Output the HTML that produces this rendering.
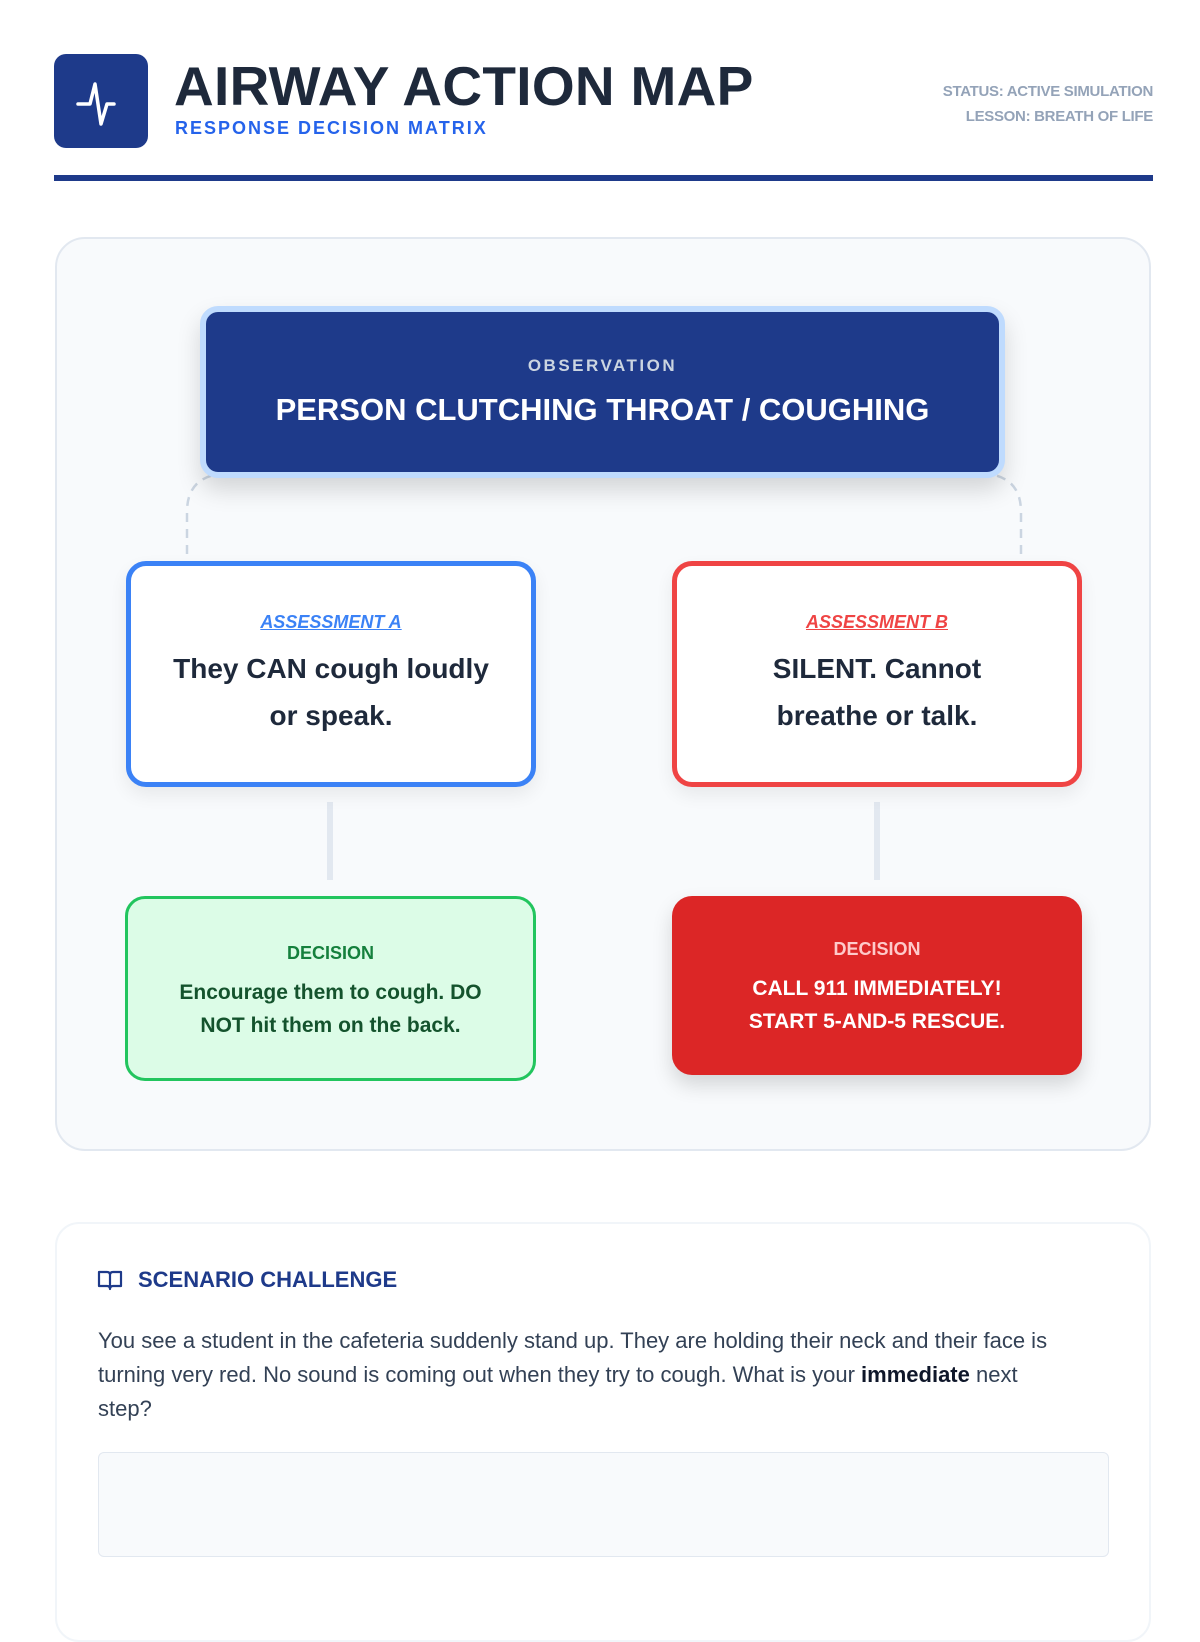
<!DOCTYPE html>
<html><head><meta charset="utf-8"><style>
*{box-sizing:border-box;margin:0;padding:0}
body{width:1200px;height:1600px;background:#fff;font-family:"Liberation Sans",sans-serif;position:relative;overflow:hidden;color:#1e293b}
.a{position:absolute}
.c{text-align:center}
</style></head><body>
<div class="a" style="left:54px;top:54px;width:94px;height:94px;background:#1e3a8a;border-radius:12px">
<svg width="94" height="94" viewBox="0 0 94 94"><polyline points="24,50 36,50 41,30 47,70 53,50 60,50" fill="none" stroke="#fff" stroke-width="3.5" stroke-linejoin="round" stroke-linecap="round"/></svg></div>
<div class="a" style="left:174px;top:54px;font-size:55px;font-weight:900;color:#1e293b;letter-spacing:0.3px;white-space:nowrap">AIRWAY ACTION MAP</div>
<div class="a" style="left:175px;top:118px;font-size:18px;font-weight:bold;color:#2563eb;letter-spacing:2px;white-space:nowrap">RESPONSE DECISION MATRIX</div>
<div class="a" style="right:47px;top:79px;font-size:15px;font-weight:bold;color:#94a3b8;text-align:right;line-height:25px;letter-spacing:-0.3px">STATUS: ACTIVE SIMULATION<br>LESSON: BREATH OF LIFE</div>
<div class="a" style="left:54px;top:175px;width:1099px;height:6px;background:#1e3a8a"></div>

<div class="a" style="left:55px;top:237px;width:1096px;height:914px;background:#f8fafc;border:2px solid #e2e8f0;border-radius:30px"></div>
<svg class="a" style="left:0;top:0" width="1200" height="1200">
<path d="M187 554 V512 Q187 478 220 474" fill="none" stroke="#cbd5e1" stroke-width="2.5" stroke-dasharray="9 7"/>
<path d="M1021 554 V512 Q1021 478 988 474" fill="none" stroke="#cbd5e1" stroke-width="2.5" stroke-dasharray="9 7"/>
<rect x="327" y="802" width="6" height="78" fill="#e2e8f0"/>
<rect x="874" y="802" width="6" height="78" fill="#e2e8f0"/>
</svg>
<div class="a c" style="left:200px;top:306px;width:805px;height:172px;background:#1e3a8a;border:6px solid #bfdbfe;border-radius:18px;box-shadow:0 12px 24px rgba(0,0,0,.15)">
<div style="margin-top:44px;font-size:17px;font-weight:bold;color:#cbd5e1;letter-spacing:2.5px">OBSERVATION</div>
<div style="margin-top:16px;font-size:31px;font-weight:bold;color:#fff">PERSON CLUTCHING THROAT / COUGHING</div></div>

<div class="a c" style="left:126px;top:561px;width:410px;height:226px;background:#fff;border:5px solid #3b82f6;border-radius:20px;box-shadow:0 8px 18px rgba(0,0,0,.07)">
<div style="margin-top:46px;font-size:18px;font-weight:bold;font-style:italic;text-decoration:underline;color:#3b82f6">ASSESSMENT A</div>
<div style="margin-top:12px;font-size:28px;font-weight:bold;line-height:47px;color:#1e293b">They CAN cough loudly<br>or speak.</div></div>
<div class="a c" style="left:672px;top:561px;width:410px;height:226px;background:#fff;border:5px solid #ef4444;border-radius:20px;box-shadow:0 8px 18px rgba(0,0,0,.07)">
<div style="margin-top:46px;font-size:18px;font-weight:bold;font-style:italic;text-decoration:underline;color:#ef4444">ASSESSMENT B</div>
<div style="margin-top:12px;font-size:28px;font-weight:bold;line-height:47px;color:#1e293b">SILENT. Cannot<br>breathe or talk.</div></div>

<div class="a c" style="left:125px;top:896px;width:411px;height:185px;background:#dcfce7;border:3px solid #22c55e;border-radius:20px">
<div style="margin-top:44px;font-size:18px;font-weight:bold;color:#15803d">DECISION</div>
<div style="margin-top:12px;font-size:21px;font-weight:bold;line-height:33px;color:#14532d">Encourage them to cough. DO<br>NOT hit them on the back.</div></div>
<div class="a c" style="left:672px;top:896px;width:410px;height:179px;background:#dc2626;border-radius:20px;box-shadow:0 10px 20px rgba(0,0,0,.15)">
<div style="margin-top:43px;font-size:18px;font-weight:bold;color:#fecaca">DECISION</div>
<div style="margin-top:12px;font-size:21px;font-weight:bold;line-height:33px;color:#fff">CALL 911 IMMEDIATELY!<br>START 5-AND-5 RESCUE.</div></div>

<div class="a" style="left:55px;top:1222px;width:1096px;height:420px;background:#fff;border:2px solid #f1f5f9;border-radius:24px"></div>
<svg class="a" style="left:97px;top:1268px" width="26" height="24" viewBox="0 0 26 24"><path d="M2 4 H10 Q13 4 13 7 V21 Q13 18 10 18 H2 Z M24 4 H16 Q13 4 13 7 V21 Q13 18 16 18 H24 Z" fill="none" stroke="#1e3a8a" stroke-width="2.2" stroke-linejoin="round"/></svg>
<div class="a" style="left:138px;top:1267px;font-size:22px;font-weight:bold;color:#1e3a8a">SCENARIO CHALLENGE</div>
<div class="a" style="left:98px;top:1324px;width:955px;font-size:22px;line-height:34px;color:#334155">You see a student in the cafeteria suddenly stand up. They are holding their neck and their face is turning very red. No sound is coming out when they try to cough. What is your <b style="color:#0f172a">immediate</b> next step?</div>
<div class="a" style="left:98px;top:1452px;width:1011px;height:105px;background:#f8fafc;border:1.5px solid #e2e8f0;border-radius:6px"></div>
</body></html>
